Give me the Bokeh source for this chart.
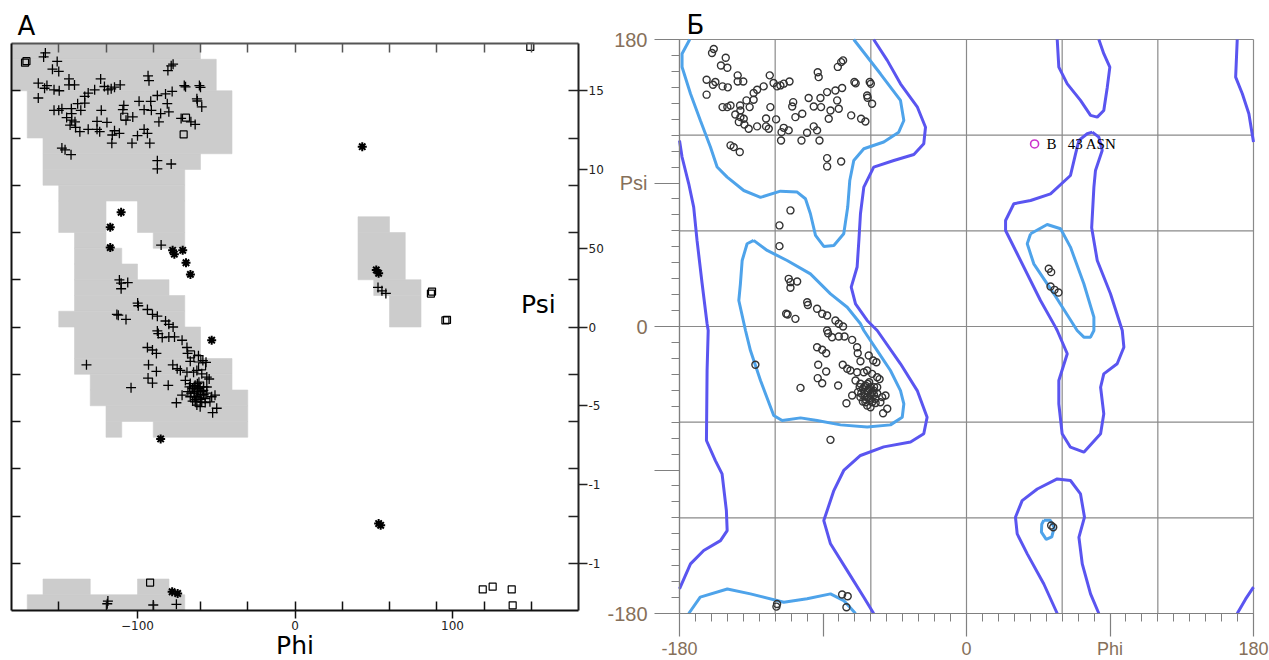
from bokeh.plotting import figure
from bokeh.models import FixedTicker, LinearAxis, Label, Range1d
from bokeh.embed import file_html
from bokeh.resources import INLINE

# ---------------- data (phi, psi in degrees) ----------------
# residues drawn as "+" in A and as open circles in B
phi_plus = [-158.5, -159.6, -151, -154, -150, -163, -157.5, -159, -153, -149.7, -163, -143.5, -143.5, -140,
            -153, -150, -148, -142, -141.8, -136, -145, -141.8, -139.7, -142.8, -139.3, -136.6, -138, -133.5,
            -133.5, -131.3, -127.2, -123.4, -121, -118.8, -116.7, -114.6, -111, -131.3, -125.7, -125.7, -123,
            -119.4, -124, -116, -114.6, -111.5, -116.3, -108.7, -109.3, -107.3, -103, -103.5, -100, -99, -95.8,
            -95.8, -93.7, -92.2, -91.2, -91.6, -93.3, -92.7, -86.4, -87.4, -82.2, -81.1, -80.1, -85.3, -78,
            -80.7, -78.6, -77.4, -70.3, -69.5, -62.3, -62, -60.7, -60, -59.2, -72.3, -66.1, -63.4, -87.4,
            -87.4, -78.6, -148, -146, -142.2,
            -111.5, -110.4, -106.2, -110.4, -113.1, -112.2, -107.3, -99.9, -99.5, -93.7, -90.5, -87.4, -82.2,
            -80.1, -77.4, -87.4, -86.8, -84.3, -80.1, -76.5, -71.7, -93.7, -90.5, -88, -68.6, -68.2, -61.3,
            -66.5, -58.5, -56.5, -93, -88, -93.3, -90.5, -104.1, -80.5, -75.3, -77.6, -74.8, -72.8, -68.6,
            -64.4, -62.3, -59.2, -56, -54.5, -69.6, -66.5, -63.4, -60.2, -56, -58.2, -62, -64, -68, -71.7,
            -66.5, -62.3, -57.1, -52.9, -50.8, -54, -59.2, -62.3, -60.2, -49.7, -52.3, -63.4, -65, -61, -58,
            -64, -62, -60, -58, -66, -63, -61, -59, -57, -65, -67, -62, -60, -64, -56, -61,
            -132.4, -118.8, -119.2, -75.3, 52.7, 55.2, 57.7]
psi_plus = [174, 171.5, 168.6, 163.7, 162.3, 154.8, 153.3, 151.6, 150.6, 150, 145.4, 157.5, 153.7, 153.7,
            137.6, 137.6, 138.6, 138.6, 135.5, 137.6, 133, 131.3, 130.3, 128.2, 126.7, 124, 141.8, 142.2,
            146.4, 148.5, 150.6, 157.5, 152.7, 150.6, 151.2, 152.3, 153.7, 125.5, 125.5, 130.5, 137.6,
            129.9, 124, 121.9, 124.6, 123, 116.7, 140.7, 138, 131.3, 133.4, 116.7, 121.5, 143.3, 138,
            125.5, 123, 116.7, 137.6, 143.3, 159.5, 156.4, 130.3, 147, 148, 141.8, 136.6, 135.5, 149.6,
            162.8, 165.8, 166.9, 153.3, 152.5, 144.9, 143.5, 153.3, 152.2, 139.7, 132.4, 130.3, 128.6, 105.6,
            100.4, 103.5, 113.6, 112.5, 109.4,
            29.9, 27.8, 28.2, 24.3, 8, 7.5, 4.8, 15.2, 13.5, 11.1, 8, 6.9, 3.8,
            1.7, 0, -2.5, -4.2, -6.7, -6.3, -6.3, -8.4, -13, -14.6, -16.8, -13, -16.8, -18.2,
            -21.8, -21.3, -22.4, -24, -28.2, -32.4, -35.6, -38.5, -37, -48.1, -24, -26.5, -27.6, -28.7,
            -28.7, -27.6, -29.7, -31.8, -33, -33.9, -35.9, -37, -38.1, -38.1, -40.2, -40, -42, -41, -43.3,
            -44.3, -44.3, -45.4, -44.3, -43.3, -47.5, -47.5, -49.6, -50.6, -51.6, -54.4, -47.5, -39, -35, -43,
            -38, -41, -43, -38, -42, -46, -45, -41, -48, -47, -38, -36, -46, -44, -42, -39,
            -24, -174, -175.7, -176.1, 25.1, 23, 21.3]

# residues drawn as asterisks in A and as open circles in B
phi_star = [-110.4, -117.3, -117.3, 51.6, 53.1, 53.1, 54.4, -85.3, -78, -74.5]
psi_star = [72.8, 63.4, 50.4, 36.2, 34.1, -124.8, -125.9, -71.1, -168.1, -169.2]

# residues only in A: asterisks, crosses and squares (glycines)
phi_star_a = [-52.9, -77.7, -76.6, -71.3, -69.2, -66.4]
psi_star_a = [-8.4, 48.7, 46.2, 48.7, 40.8, 33.4]
phi_plus_a = [-85, -90]
psi_plus_a = [52, -176.5]
phi_gly = [-171.4, -170.5, -69.2, -70.7, -108.4, 86.3, 87, 95.5, 96.5, 149.4, 119.2, 125.5, 137.6, 138.2,
           -92, -66, -62, -59]
psi_gly = [167.8, 168.8, 132.9, 122.3, 133.5, 21.2, 22.5, 4.2, 4.5, 177.8, -166.6, -164.9, -166.6, -176.7,
           -162.3, -17.4, -20, -25]

# outlier residue
phi_asn = [42.7]
psi_asn = [114.5]
asn_label = "B\u00a0\u00a0\u00a043 ASN"

# A: allowed-region cells (left, right, bottom, top)
reg_left = [-180, -180, -170, -160, -160, -160, -150, -150, -100, -140, -90, -140, -140, -140, -140, -150,
            -140, -140, -130, -130, -120, -120, -90, 40, 40, 50, 60, -160, -100, -170]
reg_right = [-60, -50, -40, -40, -60, -70, -70, -120, -70, -120, -70, -110, -100, -80, -70, -70,
             -60, -40, -40, -30, -30, -110, -30, 60, 70, 80, 80, -130, -80, -70]
reg_bottom = [170, 150, 120, 110, 100, 90, 80, 60, 60, 50, 50, 40, 30, 20, 10, 0,
              -20, -30, -40, -50, -60, -70, -70, 60, 30, 20, 0, -170, -170, -180]
reg_top = [180, 170, 150, 120, 110, 100, 90, 80, 80, 60, 60, 50, 40, 30, 20, 10,
           0, -20, -30, -40, -50, -60, -60, 70, 60, 30, 20, -160, -160, -170]

# B: contour lines (favoured = light blue, allowed = dark blue)
fav_contours = [
    ([-173.6, -178.4, -178.4, -173.1, -166.9, -160.6, -156.4, -150.1, -139.7, -129.2, -116.7, -106.2, -101,
      -97.9, -94.7, -89.5, -83.2, -77, -74.5, -73.2, -70.7, -64.4, -51.9, -42.5, -39.3, -41.4, -54, -70.7],
     [180, 171.1, 162.8, 146, 129.2, 112.6, 100, 93.7, 85.3, 81, 84.9, 84.3, 80.1,
      70.7, 57.1, 50.2, 50.8, 58.2, 74.9, 91.6, 104.1, 111.5, 115.7, 121.9, 129.2, 141.8, 158.5, 180]),
    ([-133.5, -137.6, -140.7, -141.8, -142.8, -138.6, -135.5, -129.2, -120.9, -115.6, -104.1, -93.7, -79,
      -62.3, -47.7, -40.3, -39.3, -41.4, -47.7, -56, -64.4, -66.5, -74.8, -85.3, -97.9, -112.5, -125, -133.5],
     [54, 51.9, 41.4, 26.8, 16.3, -2.5, -15.1, -33.9, -55.8, -59, -57.3, -59, -61.7,
      -63.1, -61.7, -56.9, -48.5, -40.2, -27.6, -15.1, -2.5, 1.7, 12.1, 20.5, 33, 41.4, 47.7, 54]),
    ([-174.2, -167, -150, -135.5, -114.6, -100, -85.3, -77, -69.6],
     [-180, -169.7, -164.6, -167.7, -172.9, -170.8, -167.7, -171.9, -180]),
    ([40.2, 50.6, 59, 65.2, 73.6, 79.9, 79.9, 77.8, 73.6, 69.4, 54.8, 42.2, 38.1, 40.2],
     [58.2, 64, 61.3, 49.8, 26.8, 5.9, -2.5, -6.7, -6.7, -2.5, 20.5, 39.3, 51.9, 58.2]),
    ([48.5, 52.5, 55, 53.5, 50, 47, 47.2, 48.5],
     [-121.5, -121.5, -126, -132, -133.5, -129, -124, -121.5]),
]
alw_contours = [
    ([-180, -178.4, -174.2, -171.1, -169, -165.8, -162.7, -162, -162.7, -163.1, -157.5, -153.3, -150.6,
      -150.1, -154.3, -164.8, -173.1, -180],
     [116.7, 106.3, 89.5, 74.9, 54, 26.8, 1.7, -2.5, -27.6, -71.5, -84.1, -92.4, -115.4,
      -128, -134.3, -140.5, -148.9, -164.6]),
    ([-58.2, -49.7, -41.4, -30.9, -25.7, -26.8, -33, -45.6, -58.2, -64.4, -66.5, -67.5, -68.6, -72.3, -69.6,
      -62.3, -56, -41.4, -30.9, -24.7, -26.8, -35.1, -51.9, -66.5, -77, -83.2, -89.5, -85.3, -74.8, -64.4, -58.2],
     [180, 166.9, 152.2, 137.8, 125, 114.6, 107.9, 104.1, 100, 87.4, 70.7, 54, 37.3, 24.7, 14.2,
      3.8, -2.5, -23.4, -40.2, -56.9, -67.3, -72.5, -75.5, -80.9, -90.3, -102.9, -121.7, -136.3, -153.1, -169.8, -180]),
    ([56.9, 57.9, 63.2, 71.5, 77.8, 82, 86.1, 88.3, 89.9, 86.1, 83],
     [180, 162.7, 152.2, 141.8, 132.4, 131.3, 135.5, 150.1, 162.7, 171.1, 180]),
    ([56.9, 48.5, 38.1, 31.8, 30.7, 34.9, 44.4, 56.9, 65.2, 71.5, 74, 70.5, 72.6, 77.8, 83],
     [-180, -161.5, -142.6, -130.1, -119.6, -109.2, -101.9, -95.6, -96.6, -105, -119.6, -132.2, -148.9, -167.7, -180]),
    ([78.9, 83, 85.1, 80.9, 79.9, 78.5, 82, 90.3, 97.7, 98.7, 94.5, 86.1, 84.1, 86.1, 84.1, 73.6, 65.2, 60,
      57.9, 57.9, 63.2, 56.9, 55.8, 46.4, 31.8, 24.5, 24.5, 29.7, 40.2, 52.7, 65.2, 68.4, 70.5, 75.7, 78.9],
     [121.9, 118.8, 110.4, 97.9, 87.4, 62, 41.4, 20.5, -2.5, -13, -23.4, -29.7, -38.1, -54.8, -67.3, -78.8,
      -75.7, -67.3, -48.5, -33.9, -17.1, -2.5, -0.4, 16.3, 45.6, 60.2, 66.5, 77, 79, 83.2, 94.7, 108.3,
      116.7, 120.9, 121.9]),
    ([169.8, 168.8, 173, 177.1, 180], [180, 156.4, 146, 133.4, 115.7]),
    ([169.8, 175, 180], [-180, -171, -163.5]),
]

# axis ticks
ticks30 = list(range(-150, 151, 30))
a_right_ticks = [-150, -100, -50, 0, 50, 100, 150]
a_right_labels = {150: "15", 100: "10", 50: "50", 0: "0", -50: "-5", -100: "-1", -150: "-1"}
a_bottom_ticks = [-100, 0, 100]
b_major = [-180, -90, 0, 90, 180]
b_minor = list(range(-180, 181, 10))
b_grid = list(range(-180, 181, 60))
b_left_labels = {180: "180", 90: "Psi", 0: "0", -90: "", -180: "-180"}
b_bottom_labels = {-180: "-180", -90: "", 0: "0", 90: "Phi", 180: "180"}

# ---------------- layout: one canvas, two coordinate systems ----------------
W, H = 1269, 660
kA = 567 / 360.0          # px per degree, panel A
kB = 574 / 360.0          # px per degree, panel B
AX0, AY0 = 11, 43         # pixel position of (phi=-180, psi=180) in A
BX0, BY0 = 679, 39        # pixel position of (phi=-180, psi=180) in B

xa = Range1d(-180 - AX0 / kA, -180 + (W - AX0) / kA)
ya = Range1d(180 - (H - AY0) / kA, 180 + AY0 / kA)
xb = Range1d(-180 - BX0 / kB, -180 + (W - BX0) / kB)
yb = Range1d(180 - (H - BY0) / kB, 180 + BY0 / kB)


def ya_px(y):   # screen row -> psi in panel A
    return 180 - (y - AY0) / kA


def yb_px(y):   # screen row -> psi in panel B
    return 180 - (y - BY0) / kB


p = figure(width=W, height=H, x_range=xa, y_range=ya, title=None,
           x_axis_location=None, y_axis_location=None,
           output_backend="svg", toolbar_location=None,
           min_border_left=0, min_border_right=0, min_border_top=0, min_border_bottom=0)
p.extra_x_ranges = {"bx": xb}
p.extra_y_ranges = {"by": yb}
p.grid.visible = False
p.outline_line_color = None
p.background_fill_color = "white"
p.border_fill_color = "white"

# ---------------- panel A ----------------
p.quad(left=reg_left, right=reg_right, bottom=reg_bottom, top=reg_top,
       fill_color="#cccccc", line_color="#cccccc", line_width=0.6)

p.scatter(phi_plus + phi_plus_a, psi_plus + psi_plus_a, marker="cross", size=10,
          line_color="black", line_width=1.3)
p.scatter(phi_star + phi_star_a + phi_asn, psi_star + psi_star_a + psi_asn, marker="asterisk", size=9,
          line_color="black", line_width=2)
p.scatter(phi_gly, psi_gly, marker="square", size=7, fill_color=None,
          line_color="black", line_width=1.2)


def a_axis(loc, color, ticks=(), labels=None, out=0, inn=9):
    ax = LinearAxis(fixed_location=loc, bounds=(-180, 180),
                    ticker=FixedTicker(ticks=list(ticks), minor_ticks=ticks30))
    if labels:
        ax.major_label_overrides = labels
    ax.major_tick_in = 0
    ax.major_tick_out = out
    ax.minor_tick_in = inn
    ax.minor_tick_out = 0
    ax.axis_line_color = color
    ax.axis_line_width = 2
    ax.major_tick_line_color = color
    ax.minor_tick_line_color = color
    ax.major_tick_line_width = 1.5
    ax.minor_tick_line_width = 1.5
    ax.major_label_text_font = "DejaVu Sans"
    ax.major_label_text_font_size = "12px" if ticks else "0px"
    ax.major_label_text_color = "#222222"
    return ax


p.add_layout(a_axis(-180, "#111111"), "left")
p.add_layout(a_axis(180, "#555555"), "above")
ax_rA = a_axis(180, "#222222", a_right_ticks, a_right_labels, out=9, inn=10)
ax_rA.major_label_standoff = 1
p.add_layout(ax_rA, "right")
ax_bA = a_axis(-180, "#111111", a_bottom_ticks, None, out=8, inn=9)
ax_bA.major_label_standoff = 2
p.add_layout(ax_bA, "below")

p.add_layout(Label(x=-180 + 6 / kA, y=ya_px(25), text="А", text_font="DejaVu Sans",
                   text_font_size="26px", text_align="left", text_baseline="middle", text_color="black"))
p.add_layout(Label(x=0, y=ya_px(645), text="Phi", text_font="DejaVu Sans",
                   text_font_size="25px", text_align="center", text_baseline="middle", text_color="black"))
p.add_layout(Label(x=143.5, y=ya_px(304), text="Psi", text_font="DejaVu Sans", text_font_size="25px",
                   text_align="left", text_baseline="middle", text_color="black"))

# ---------------- panel B ----------------
gx0 = [g for g in b_grid] + [-180] * len(b_grid)
gx1 = [g for g in b_grid] + [180] * len(b_grid)
gy0 = [-180] * len(b_grid) + [g for g in b_grid]
gy1 = [180] * len(b_grid) + [g for g in b_grid]
p.segment(gx0, gy0, gx1, gy1, line_color="#8a8a8a", line_width=1.2,
          x_range_name="bx", y_range_name="by")

for xs, ys in alw_contours:
    p.line(xs, ys, line_color="#5a55f0", line_width=3, x_range_name="bx", y_range_name="by")
for xs, ys in fav_contours:
    p.line(xs, ys, line_color="#4ea3ea", line_width=3, x_range_name="bx", y_range_name="by")

p.scatter(phi_plus + phi_star, psi_plus + psi_star, marker="circle", size=7, fill_color=None,
          line_color="#333333", line_width=1.4, x_range_name="bx", y_range_name="by")
p.scatter(phi_asn, psi_asn, marker="circle", size=8, fill_color=None,
          line_color="#cc33cc", line_width=1.6, x_range_name="bx", y_range_name="by")
p.add_layout(Label(x=phi_asn[0], y=psi_asn[0], x_offset=12, text=asn_label,
                   text_font="Liberation Serif", text_font_size="15px",
                   text_baseline="middle", text_color="black",
                   x_range_name="bx", y_range_name="by"))
p.add_layout(Label(x=-180 + 7 / kB, y=yb_px(24), text="Б", text_font="DejaVu Sans",
                   text_font_size="26px", text_align="left", text_baseline="middle", text_color="black",
                   x_range_name="bx", y_range_name="by"))

lab_col = "#86705a"
for side, labels, tout, stand, fs in (("left", b_left_labels, 25, 7, "20px"),
                                      ("below", b_bottom_labels, 23, 2, "18px")):
    ax = LinearAxis(fixed_location=-180, bounds=(-180, 180), x_range_name="bx", y_range_name="by",
                    ticker=FixedTicker(ticks=b_major, minor_ticks=b_minor),
                    major_label_overrides=labels)
    ax.major_tick_in = 0
    ax.major_tick_out = tout
    ax.minor_tick_in = 0
    ax.minor_tick_out = 8
    ax.axis_line_color = "#808080"
    ax.axis_line_width = 1.2
    ax.major_tick_line_color = "#808080"
    ax.minor_tick_line_color = "#808080"
    ax.major_tick_line_width = 1.2
    ax.minor_tick_line_width = 1
    ax.major_label_text_font = "Liberation Sans"
    ax.major_label_text_font_size = fs
    ax.major_label_text_color = lab_col
    ax.major_label_standoff = stand
    p.add_layout(ax, side)

open("out.html", "w").write(file_html(p, INLINE))
